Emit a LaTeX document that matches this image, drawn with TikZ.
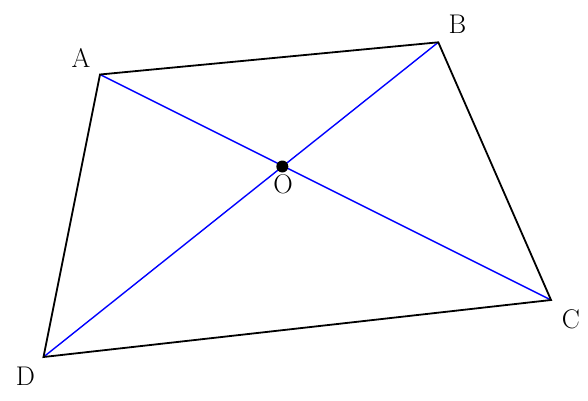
\documentclass[tikz,border=0pt]{standalone}
\usepackage{fontspec}
\newcommand{\lblsize}{\fontsize{27}{32}\selectfont}
\begin{document}
\begin{tikzpicture}[x=1pt,y=-1pt,
  edge/.style={black,line width=1.8pt,line join=miter},
  diag/.style={blue,line width=1.4pt},
  lbl/.style={inner sep=0pt}]
\useasboundingbox (0,0) rectangle (588,400);
\coordinate (A) at (100,74.5);
\coordinate (B) at (438.3,42.3);
\coordinate (C) at (551,300);
\coordinate (D) at (43.5,357);
\coordinate (O) at (282.3,166.5);
\draw[diag] (A) -- (C);
\draw[diag] (B) -- (D);
\draw[edge] (A) -- (B) -- (C) -- (D) -- cycle;
\fill (O) circle (6pt);
\node[lbl] (la) at (81,58) {\lblsize A};
\node[lbl] (lb) at (457.5,24) {\lblsize B};
\node[lbl] (lc) at (571,319.5) {\lblsize C};
\node[lbl] (ld) at (25.5,376) {\lblsize D};
\node[lbl] (lo) at (283,184.5) {\lblsize O};
\end{tikzpicture}
\end{document}
